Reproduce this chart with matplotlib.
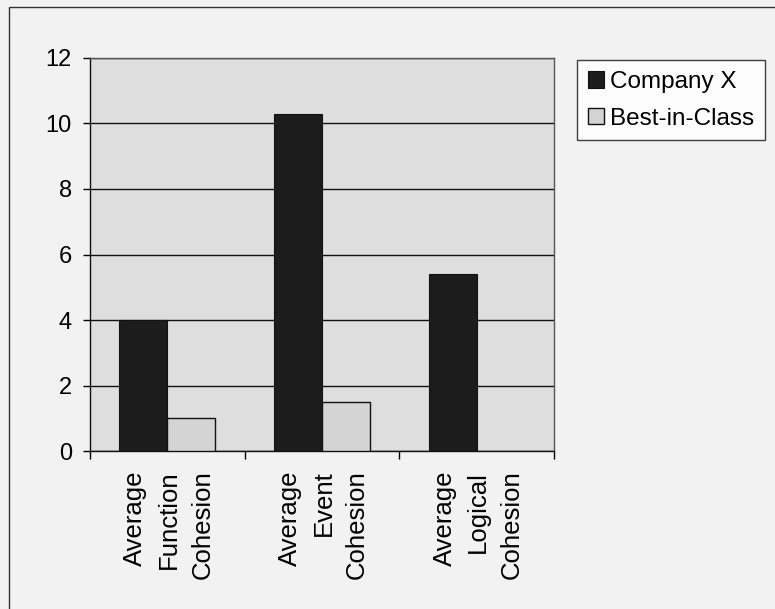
import matplotlib
matplotlib.use("Agg")
import matplotlib.pyplot as plt
from matplotlib.patches import Rectangle
import numpy as np

plt.rcParams['font.family'] = ['Liberation Sans', 'DejaVu Sans']

categories = ["Average\nFunction\nCohesion", "Average\nEvent\nCohesion", "Average\nLogical\nCohesion"]
series_names = ["Company X", "Best-in-Class"]
company_x = [4.0, 10.3, 5.4]
best_in_class = [1.0, 1.5, 0.0]
y_ticks = [0, 2, 4, 6, 8, 10, 12]

fig = plt.figure(figsize=(7.75, 6.09), dpi=100)
fig.patch.set_facecolor("#f2f2f2")

# outer frame of the chart area
fig.patches.append(Rectangle((0.012, -0.1), 1.2, 1.1 - 0.011, transform=fig.transFigure,
                             fill=False, edgecolor="#333333", linewidth=1.0))

ax = fig.add_axes([0.1161, 0.2594, 0.5987, 0.6454])
ax.set_facecolor("#dedede")

x = np.arange(len(categories))
w = 0.31
ax.bar(x - w / 2, company_x, width=w, color="#1c1c1c", edgecolor="#111111",
       linewidth=0.8, label=series_names[0], zorder=3)
ax.bar(x + w / 2, best_in_class, width=w, color="#d4d4d4", edgecolor="#111111",
       linewidth=[1.0 if v > 0 else 0 for v in best_in_class],
       label=series_names[1], zorder=3)

ax.set_ylim(0, 12)
ax.set_xlim(-0.5, len(categories) - 0.5)
ax.set_yticks(y_ticks)
ax.set_yticklabels([str(t) for t in y_ticks], fontsize=17)
ax.yaxis.grid(True, color="#111111", linewidth=1.0, zorder=1)
ax.tick_params(axis="y", direction="out", length=5, width=1, pad=8)

ax.set_xticks(x)
ax.set_xticklabels([])
ax.tick_params(axis="x", which="major", length=0)
ax.set_xticks(np.arange(-0.5, len(categories), 1.0), minor=True)
ax.tick_params(axis="x", which="minor", direction="out", length=6, width=1)

for xi, lab in zip(x, categories):
    ax.text(xi + 0.01, -0.6, lab, rotation=90, ha="center", va="top",
            multialignment="right", fontsize=18.5, linespacing=1.5,
            transform=ax.transData)

for s in ["left", "bottom"]:
    ax.spines[s].set_color("#111111")
    ax.spines[s].set_linewidth(1.0)
for s in ["top", "right"]:
    ax.spines[s].set_color("#555555")
    ax.spines[s].set_linewidth(1.0)

leg = ax.legend(loc="upper left", bbox_to_anchor=(577 / 775, 1 - 60 / 609),
                bbox_transform=fig.transFigure, fontsize=17.5, frameon=True,
                fancybox=False, edgecolor="#111111", facecolor="#ffffff",
                handlelength=0.65, handleheight=0.65, handletextpad=0.25,
                borderpad=0.45, labelspacing=0.6, borderaxespad=0)
leg.get_frame().set_linewidth(1.0)

fig.savefig("out.png", dpi=100, facecolor=fig.get_facecolor())
